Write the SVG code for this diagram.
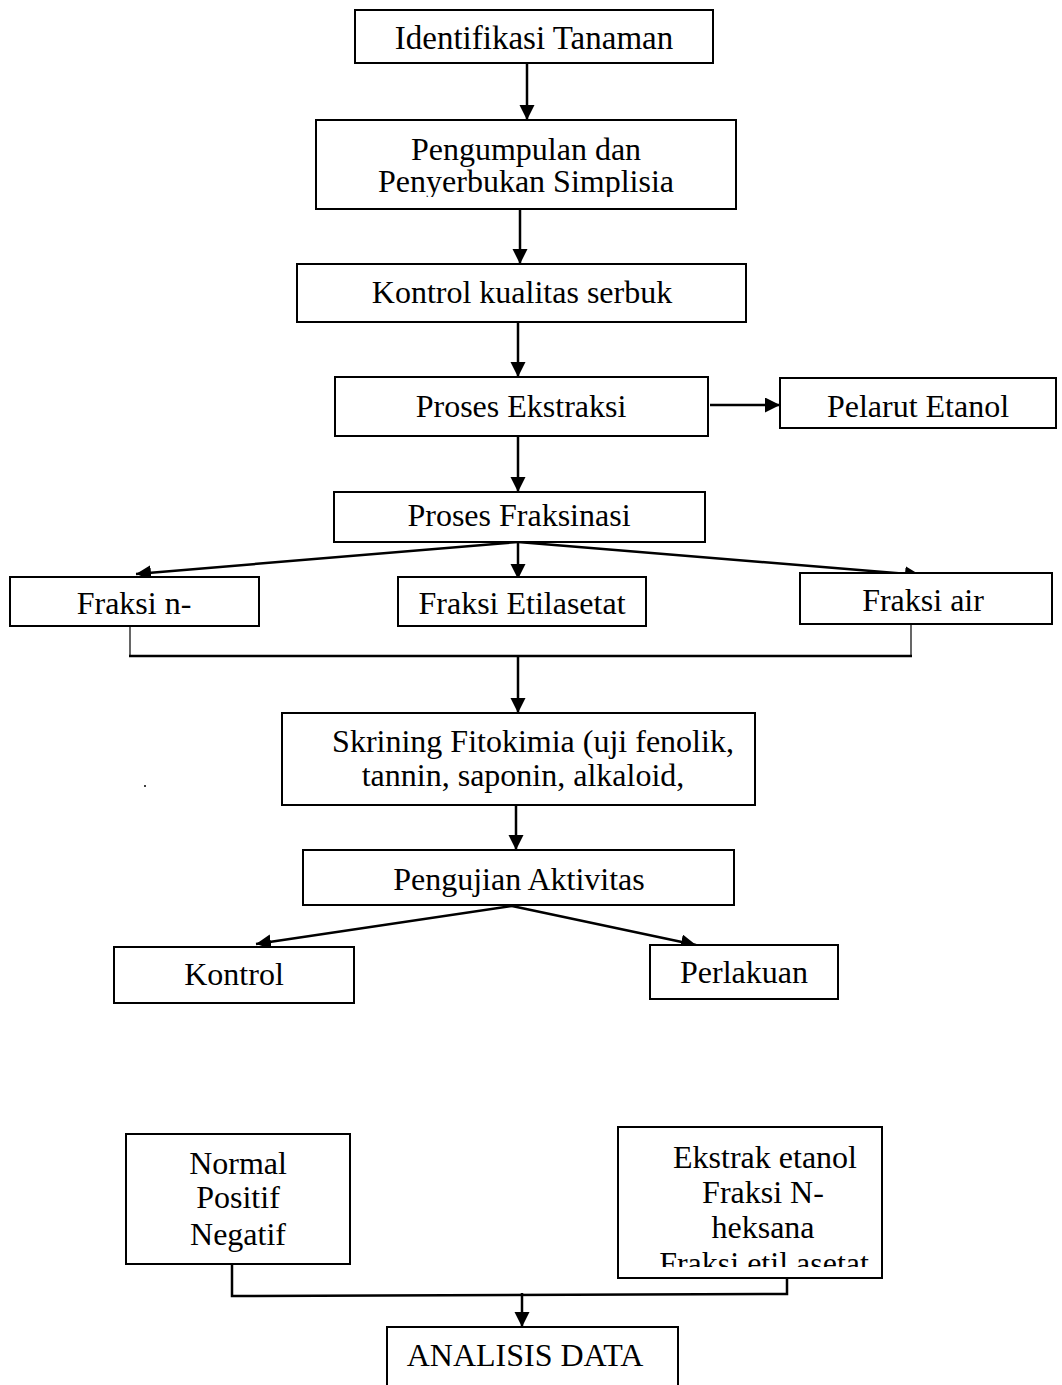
<svg xmlns="http://www.w3.org/2000/svg" width="1062" height="1385" viewBox="0 0 1062 1385">
<style>
.box{fill:#fff;stroke:#000;stroke-width:2}
.t{font-family:"Liberation Serif","Times New Roman",serif;font-size:32px;fill:#000;text-anchor:middle}
.c{stroke:#000;stroke-width:2.5;fill:none}
.thin{stroke:#000;stroke-width:1.2;fill:none}
</style>
<defs>
<marker id="ah" markerUnits="userSpaceOnUse" markerWidth="18" markerHeight="18" refX="15" refY="7.5" orient="auto">
<path d="M0,0 L15,7.5 L0,15 Z" fill="#000"/>
</marker>
<clipPath id="clipP"><rect x="316" y="120" width="420" height="77"/></clipPath>
<clipPath id="clipE"><rect x="618" y="1127" width="264" height="140"/></clipPath>
</defs>
<rect width="1062" height="1385" fill="#fff"/>

<g id="connectors">
<line class="c" x1="527" y1="63" x2="527" y2="120" marker-end="url(#ah)"/>
<line class="c" x1="520" y1="209" x2="520" y2="264" marker-end="url(#ah)"/>
<line class="c" x1="518" y1="322" x2="518" y2="377" marker-end="url(#ah)"/>
<line class="c" x1="710" y1="405" x2="780" y2="405" marker-end="url(#ah)"/>
<line class="c" x1="518" y1="436" x2="518" y2="492" marker-end="url(#ah)"/>
<line class="c" x1="518" y1="542" x2="136" y2="574" marker-end="url(#ah)"/>
<line class="c" x1="518" y1="542" x2="518" y2="579" marker-end="url(#ah)"/>
<line class="c" x1="518" y1="542" x2="920" y2="575" marker-end="url(#ah)"/>
<line class="thin" x1="130" y1="626" x2="130" y2="655"/>
<line class="thin" x1="911" y1="622" x2="911" y2="655"/>
<line class="c" x1="129" y1="656" x2="912" y2="656"/>
<line class="c" x1="518" y1="656" x2="518" y2="713" marker-end="url(#ah)"/>
<line class="c" x1="516" y1="805" x2="516" y2="850" marker-end="url(#ah)"/>
<line class="c" x1="512" y1="906" x2="256" y2="944" marker-end="url(#ah)"/>
<line class="c" x1="512" y1="906" x2="696" y2="945" marker-end="url(#ah)"/>
<polyline class="c" points="232,1264 232,1296 787,1294 787,1277"/>
<line class="c" x1="522" y1="1293" x2="522" y2="1327" marker-end="url(#ah)"/>
</g>

<g id="n1"><rect class="box" x="355" y="10" width="358" height="53"/>
<text class="t" x="534" y="49" style="font-size:33px">Identifikasi Tanaman</text></g>

<g id="n2"><rect class="box" x="316" y="120" width="420" height="89"/>
<g clip-path="url(#clipP)">
<text class="t" x="526" y="160">Pengumpulan dan</text>
<text class="t" x="526" y="192">Penyerbukan Simplisia</text>
</g></g>

<g id="n3"><rect class="box" x="297" y="264" width="449" height="58"/>
<text class="t" x="522" y="303">Kontrol kualitas serbuk</text></g>

<g id="n4"><rect class="box" x="335" y="377" width="373" height="59"/>
<text class="t" x="521" y="417">Proses Ekstraksi</text></g>

<g id="n5"><rect class="box" x="780" y="378" width="276" height="50"/>
<text class="t" x="918" y="417">Pelarut Etanol</text></g>

<g id="n6"><rect class="box" x="334" y="492" width="371" height="50"/>
<text class="t" x="519" y="526">Proses Fraksinasi</text></g>

<g id="n7"><rect class="box" x="10" y="577" width="249" height="49"/>
<text class="t" x="134" y="614">Fraksi n-</text></g>

<g id="n8"><rect class="box" x="398" y="577" width="248" height="49"/>
<text class="t" x="522" y="614">Fraksi Etilasetat</text></g>

<g id="n9"><rect class="box" x="800" y="573" width="252" height="51"/>
<text class="t" x="923" y="611">Fraksi air</text></g>

<g id="n10"><rect class="box" x="282" y="713" width="473" height="92"/>
<text class="t" x="533" y="752">Skrining Fitokimia (uji fenolik,</text>
<text class="t" x="523" y="786">tannin, saponin, alkaloid,</text></g>

<circle cx="145" cy="786" r="1" fill="#000"/>

<g id="n11"><rect class="box" x="303" y="850" width="431" height="55"/>
<text class="t" x="519" y="890">Pengujian Aktivitas</text></g>

<g id="n12"><rect class="box" x="114" y="947" width="240" height="56"/>
<text class="t" x="234" y="985">Kontrol</text></g>

<g id="n13"><rect class="box" x="650" y="945" width="188" height="54"/>
<text class="t" x="744" y="983">Perlakuan</text></g>

<g id="n14"><rect class="box" x="126" y="1134" width="224" height="130"/>
<text class="t" x="238" y="1174">Normal</text>
<text class="t" x="238" y="1208">Positif</text>
<text class="t" x="238" y="1245">Negatif</text></g>

<g id="n15"><rect class="box" x="618" y="1127" width="264" height="151"/>
<g clip-path="url(#clipE)">
<text class="t" x="765" y="1168">Ekstrak etanol</text>
<text class="t" x="763" y="1203">Fraksi N-</text>
<text class="t" x="763" y="1238">heksana</text>
<text class="t" x="764" y="1274">Fraksi etil asetat</text>
</g></g>

<g id="n16"><rect class="box" x="387" y="1327" width="291" height="70"/>
<text class="t" x="525" y="1366">ANALISIS DATA</text></g>
</svg>
